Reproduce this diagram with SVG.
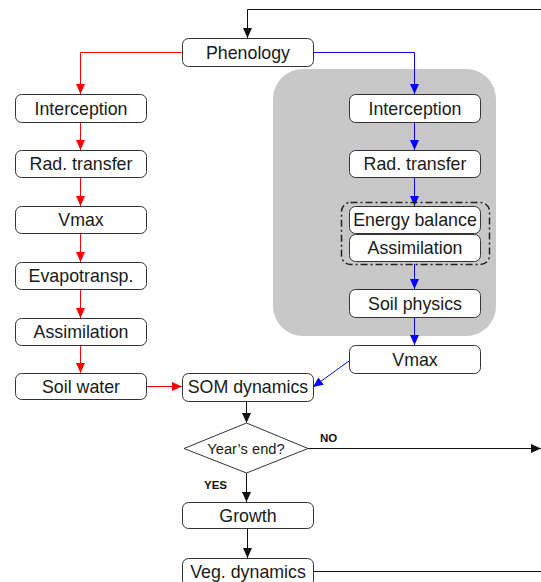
<svg xmlns="http://www.w3.org/2000/svg" width="541" height="582" viewBox="0 0 541 582">
<defs>
<style>
.box{fill:#fff;stroke:#333;stroke-width:1}
.t{font-family:"Liberation Sans",Arial,sans-serif;font-size:17.8px;fill:#1a1a1a;text-anchor:middle;dominant-baseline:central}
.lbl{font-family:"Liberation Sans",Arial,sans-serif;font-size:11.5px;font-weight:bold;fill:#111}
.r{stroke:#ff0000;stroke-width:1;fill:none}
.b{stroke:#0000ff;stroke-width:1;fill:none}
.k{stroke:#111;stroke-width:1;fill:none}
</style>
<marker id="ar" markerWidth="10" markerHeight="10" refX="10" refY="5" orient="auto" markerUnits="userSpaceOnUse" viewBox="0 0 10 10"><path d="M0,0.5 L10,5 L0,9.5 Z" fill="#ff0000"/></marker>
<marker id="ab" markerWidth="10" markerHeight="10" refX="10" refY="5" orient="auto" markerUnits="userSpaceOnUse" viewBox="0 0 10 10"><path d="M0,0.5 L10,5 L0,9.5 Z" fill="#0000ff"/></marker>
<marker id="ak" markerWidth="10" markerHeight="10" refX="10" refY="5" orient="auto" markerUnits="userSpaceOnUse" viewBox="0 0 10 10"><path d="M0,0.5 L10,5 L0,9.5 Z" fill="#111"/></marker>
</defs>
<rect width="541" height="582" fill="#fff"/>
<rect id="canopy" x="273" y="69" width="223" height="267" rx="30" fill="#c8c8c8"/>
<g id="connectors">
<path class="k" d="M541,9.5 H247.5 V38" marker-end="url(#ak)"/>
<path class="r" d="M182,52.5 H80.5 V94" marker-end="url(#ar)"/>
<path class="r" d="M80.5,122 V150" marker-end="url(#ar)"/>
<path class="r" d="M80.5,178 V206" marker-end="url(#ar)"/>
<path class="r" d="M80.5,234 V262" marker-end="url(#ar)"/>
<path class="r" d="M80.5,290 V318" marker-end="url(#ar)"/>
<path class="r" d="M80.5,346 V373" marker-end="url(#ar)"/>
<path class="r" d="M146,386.5 H182" marker-end="url(#ar)"/>
<path class="b" d="M313,52.5 H414.5 V94" marker-end="url(#ab)"/>
<path class="b" d="M414.5,122 V150" marker-end="url(#ab)"/>
<path class="b" d="M414.5,178 V206" marker-end="url(#ab)"/>
<path class="b" d="M414.5,264 V289" marker-end="url(#ab)"/>
<path class="b" d="M414.5,317 V345" marker-end="url(#ab)"/>
<path class="b" d="M349,361 L313,387" marker-end="url(#ab)"/>
<path class="k" d="M246.5,401 V423" marker-end="url(#ak)"/>
<path class="k" d="M308,448.5 H541" marker-end="url(#ak)"/>
<path class="k" d="M246.5,473 V502" marker-end="url(#ak)"/>
<path class="k" d="M247.5,528 V558" marker-end="url(#ak)"/>
<path class="k" d="M313,571.5 H541"/>
</g>
<g id="phenology"><rect class="box" x="182.5" y="38.5" width="131" height="28" rx="6"/><text class="t" x="248" y="52.5">Phenology</text></g>
<g id="l-interception"><rect class="box" x="15.5" y="94.5" width="131" height="28" rx="6"/><text class="t" x="81" y="108.5">Interception</text></g>
<g id="l-radtransfer"><rect class="box" x="15.5" y="150.5" width="131" height="27" rx="6"/><text class="t" x="81" y="164">Rad. transfer</text></g>
<g id="l-vmax"><rect class="box" x="15.5" y="206.5" width="131" height="27" rx="6"/><text class="t" x="81" y="220">Vmax</text></g>
<g id="l-evapotransp"><rect class="box" x="15.5" y="262.5" width="131" height="27" rx="6"/><text class="t" x="81" y="276">Evapotransp.</text></g>
<g id="l-assimilation"><rect class="box" x="15.5" y="318.5" width="131" height="27" rx="6"/><text class="t" x="81" y="332">Assimilation</text></g>
<g id="l-soilwater"><rect class="box" x="15.5" y="373.5" width="131" height="26" rx="6"/><text class="t" x="81" y="386.5">Soil water</text></g>
<g id="r-interception"><rect class="box" x="349.5" y="94.5" width="131" height="28" rx="6"/><text class="t" x="415" y="108.5">Interception</text></g>
<g id="r-radtransfer"><rect class="box" x="349.5" y="150.5" width="131" height="27" rx="6"/><text class="t" x="415" y="164">Rad. transfer</text></g>
<g id="coupled"><rect x="341.5" y="202.5" width="148" height="62" rx="9" fill="none" stroke="#222" stroke-width="1.5" stroke-dasharray="7,3,2,3"/></g>
<g id="r-energy"><rect class="box" x="349.5" y="206.5" width="131" height="27" rx="6"/><text class="t" x="415" y="220">Energy balance</text></g>
<g id="r-assimilation"><rect class="box" x="349.5" y="234.5" width="131" height="27" rx="6"/><text class="t" x="415" y="248">Assimilation</text></g>
<g id="r-soilphysics"><rect class="box" x="349.5" y="289.5" width="131" height="28" rx="6"/><text class="t" x="415" y="303.5">Soil physics</text></g>
<g id="r-vmax"><rect class="box" x="349.5" y="345.5" width="131" height="28" rx="6"/><text class="t" x="415" y="359.5">Vmax</text></g>
<g id="som"><rect class="box" x="182.5" y="373.5" width="131" height="28" rx="6"/><text class="t" x="248" y="387">SOM dynamics</text></g>
<g id="yearsend"><path class="box" d="M246.5,423 L308,448.5 L246.5,473 L184,448.5 Z"/><text class="t" x="246" y="448.5" style="font-size:14.7px">Year’s end?</text></g>
<text class="lbl" x="320" y="442">NO</text>
<text class="lbl" x="204" y="489">YES</text>
<g id="growth"><rect class="box" x="182.5" y="502.5" width="131" height="26" rx="6"/><text class="t" x="248" y="515.5">Growth</text></g>
<g id="vegdyn"><rect class="box" x="182.5" y="558.5" width="131" height="28" rx="6"/><text class="t" x="248" y="571.5">Veg. dynamics</text></g>
</svg>
